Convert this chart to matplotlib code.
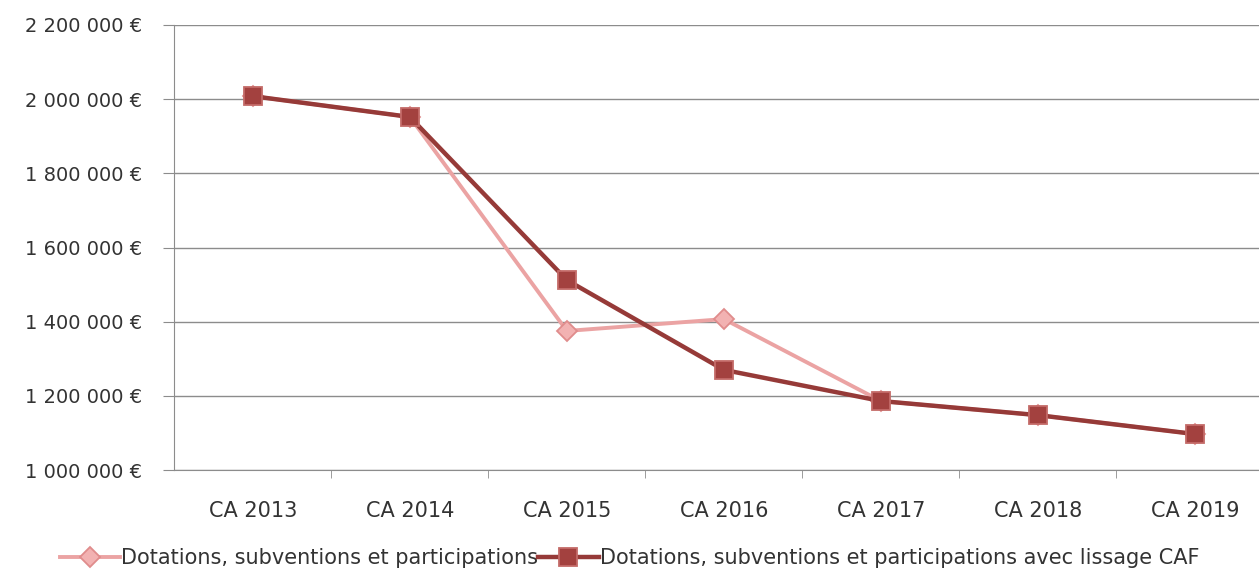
import matplotlib.pyplot as plt
from matplotlib.ticker import FuncFormatter, FixedLocator

plt.rcParams['font.family'] = ['DejaVu Sans']

# data
categories = ["CA 2013", "CA 2014", "CA 2015", "CA 2016", "CA 2017", "CA 2018", "CA 2019"]
dotations = [2008000, 1952000, 1375000, 1407000, 1186000, 1148000, 1097000]
dotations_caf = [2008000, 1952000, 1512000, 1270000, 1186000, 1148000, 1097000]
y_ticks = [1000000, 1200000, 1400000, 1600000, 1800000, 2000000, 2200000]

fig = plt.figure(figsize=(12.59, 5.77), dpi=100)
ax = fig.add_axes([0.1385, 0.1854, 0.873, 0.7713])

x = list(range(len(categories)))
ax.plot(x, dotations, color="#EBA3A3", lw=2.8, marker="D", ms=10.5,
        markerfacecolor="#F2B2B2", markeredgecolor="#E08C8C", mew=1.3,
        label="Dotations, subventions et participations", zorder=3)
ax.plot(x, dotations_caf, color="#963A38", lw=3.2, marker="s", ms=13,
        markerfacecolor="#A3413F", markeredgecolor="#C46B68", mew=1.3,
        label="Dotations, subventions et participations avec lissage CAF", zorder=4)

ax.set_xlim(-0.5, len(categories) - 0.5)
ax.set_ylim(1000000, 2200000)
ax.set_yticks(y_ticks)
ax.yaxis.set_major_formatter(FuncFormatter(lambda v, p: "{:,.0f} €".format(v).replace(",", " ")))
ax.grid(axis="y", color="#8C8C8C", lw=1)
ax.set_axisbelow(True)

ax.set_xticks(x)
ax.set_xticklabels(categories)
ax.xaxis.set_minor_locator(FixedLocator([i + 0.5 for i in range(len(categories) - 1)]))
ax.tick_params(axis="x", which="major", length=0, pad=22, labelsize=15, colors="#333333")
ax.tick_params(axis="x", which="minor", length=6, color="#8C8C8C")
ax.tick_params(axis="y", length=8, color="#8C8C8C", labelsize=14, labelcolor="#333333", pad=15)

for s in ["top", "right"]:
    ax.spines[s].set_visible(False)
for s in ["left", "bottom"]:
    ax.spines[s].set_color("#8C8C8C")

fig.legend(loc="center", bbox_to_anchor=(0.5, 0.033), ncol=2, frameon=False,
           fontsize=15, handlelength=2.9, handletextpad=0.05, columnspacing=0.0,
           labelcolor="#333333")

plt.savefig("out.png", dpi=100)
